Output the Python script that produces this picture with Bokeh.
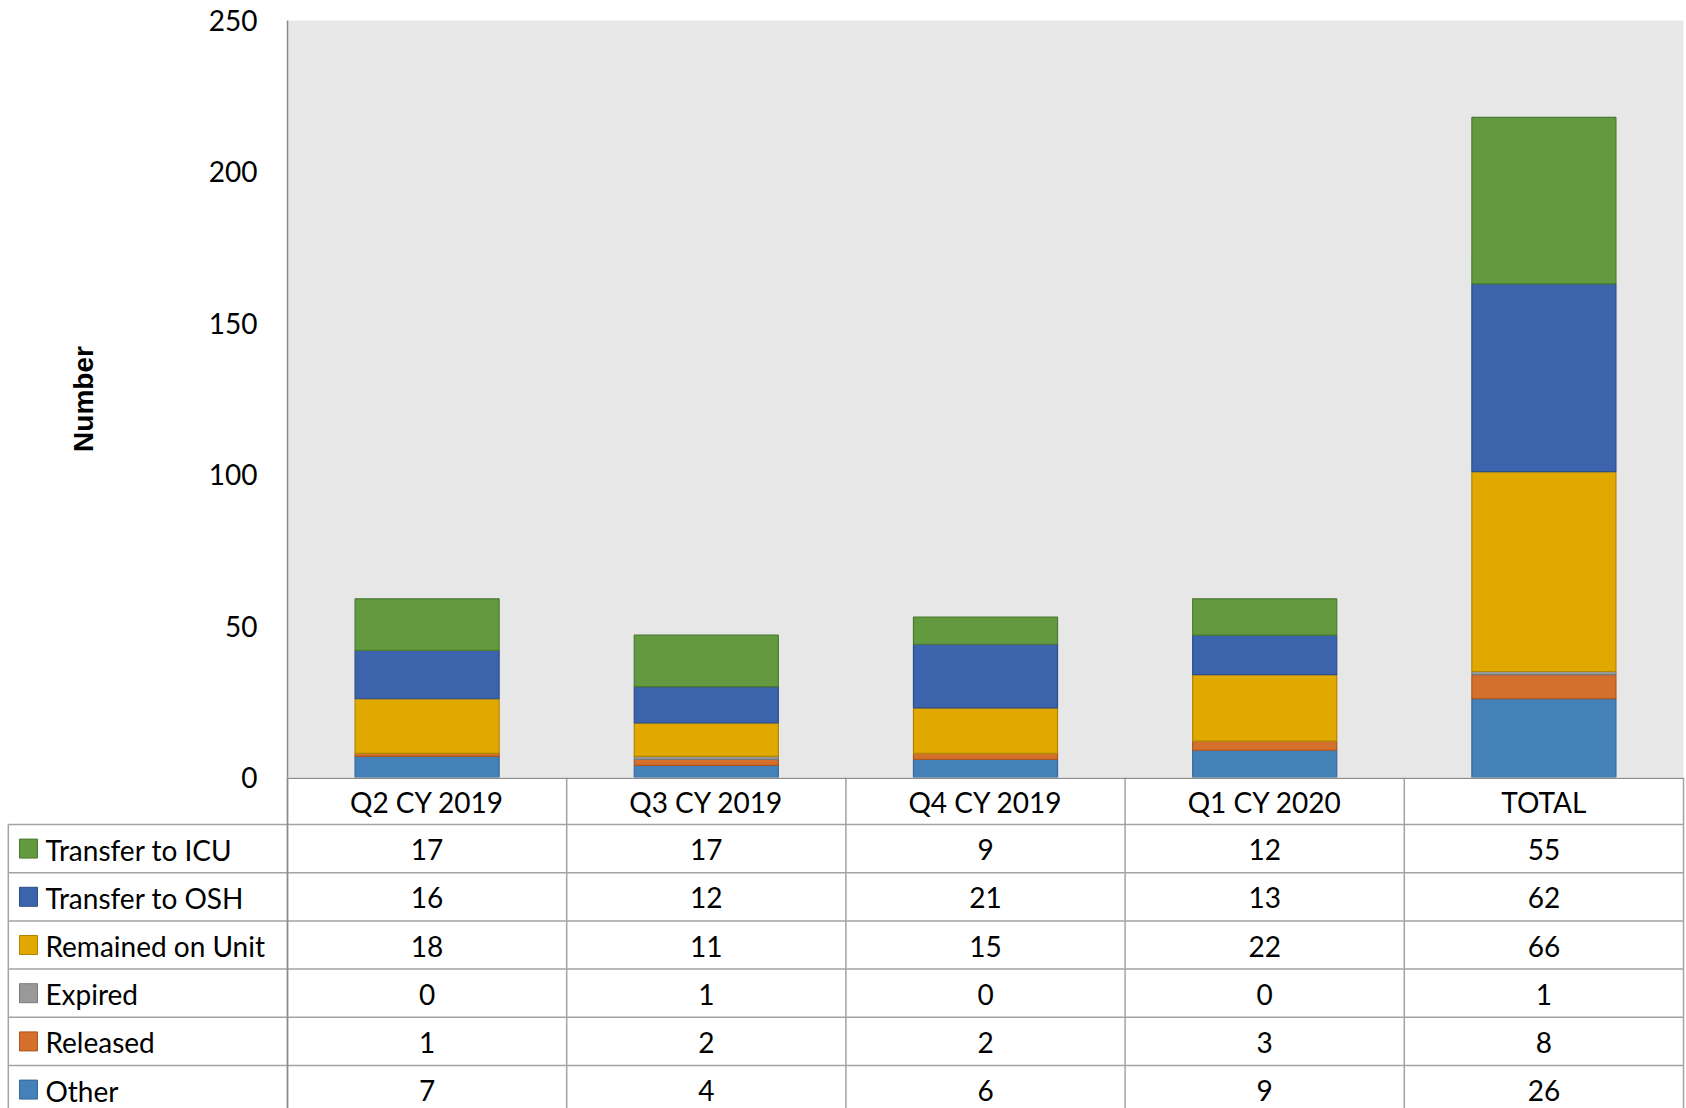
from bokeh.plotting import figure
from bokeh.layouts import column
from bokeh.models import Range1d, FactorRange, FixedTicker, ColumnDataSource
from bokeh.core.properties import value
from bokeh.embed import file_html
from bokeh.resources import INLINE

categories = ["Q2 CY 2019", "Q3 CY 2019", "Q4 CY 2019", "Q1 CY 2020", "TOTAL"]
series_names = ["Other", "Released", "Expired", "Remained on Unit", "Transfer to OSH", "Transfer to ICU"]
other = [7, 4, 6, 9, 26]
released = [1, 2, 2, 3, 8]
expired = [0, 1, 0, 0, 1]
remained = [18, 11, 15, 22, 66]
transfer_osh = [16, 12, 21, 13, 62]
transfer_icu = [17, 17, 9, 12, 55]
y_ticks = [0, 50, 100, 150, 200, 250]

fills = ["#4381B8", "#D46F2C", "#999999", "#E1A900", "#3C64AC", "#639A3F"]
lines = ["#35689A", "#A9561F", "#7A7A7A", "#B08500", "#2D4D88", "#4B7A2F"]

FONT = "Lato"
W = 1686
LEFT = 287
RIGHT_PAD = 3
UNIT = (W - LEFT - RIGHT_PAD) / 5.0
OVER = 24  # overlap between chart and table figures

data = {"cat": categories, "Other": other, "Released": released, "Expired": expired,
        "Remained on Unit": remained, "Transfer to OSH": transfer_osh, "Transfer to ICU": transfer_icu}
src = ColumnDataSource(data)

p = figure(width=W, height=777 + OVER, x_range=FactorRange(*categories, range_padding=0),
           y_range=Range1d(0, 250), output_backend="svg", toolbar_location=None,
           min_border_left=LEFT, min_border_right=RIGHT_PAD, min_border_top=20, min_border_bottom=OVER)
p.frame_align = False
p.background_fill_color = "#E7E7E7"
p.border_fill_color = "white"
p.outline_line_color = None
p.xgrid.visible = False
p.ygrid.visible = False
p.xaxis.visible = False

p.vbar_stack(series_names, x="cat", width=0.516, source=src,
             fill_color=fills, line_color=lines, line_width=1.2)

ya = p.yaxis[0]
ya.ticker = FixedTicker(ticks=y_ticks)
ya.major_tick_line_color = None
ya.minor_tick_line_color = None
ya.axis_line_color = "#8C8C8C"
ya.axis_line_width = 1.5
ya.major_label_text_font = FONT
ya.major_label_text_font_size = "28px"
ya.major_label_text_color = "black"
ya.major_label_standoff = 24
ya.axis_label = "Number"
ya.axis_label_text_font = "Liberation Sans"
ya.axis_label_text_font_style = "bold"
ya.axis_label_text_font_size = "28px"
ya.axis_label_text_color = "black"
ya.axis_label_standoff = 107

# ---- data table ----
TH = 1108 - 777
HEADER_H = 47
ROW_H = 48.2
x0 = -LEFT / UNIT
t = figure(width=W, height=TH, x_range=Range1d(x0, x0 + W / UNIT), y_range=Range1d(TH, 0),
           output_backend="svg", toolbar_location=None,
           min_border_left=0, min_border_right=0, min_border_top=0, min_border_bottom=0)
t.frame_align = False
t.margin = (-OVER, 0, 0, 0)
t.axis.visible = False
t.grid.visible = False
t.outline_line_color = None
t.background_fill_color = None
t.border_fill_color = None

GRID = "#A3A3A3"
nrows = len(series_names)
row_tops = [HEADER_H + k * ROW_H for k in range(nrows + 1)]
t.segment(x0=[-1] * len(row_tops), y0=row_tops, x1=[5] * len(row_tops), y1=row_tops,
          line_color=GRID, line_width=1.5)
xs = list(range(0, 6))
t.segment(x0=xs, y0=[0] * len(xs), x1=xs, y1=[TH] * len(xs), line_color=GRID, line_width=1.5)
t.segment(x0=[0], y0=[0], x1=[0], y1=[TH], line_color="#8C8C8C", line_width=1.5)
t.segment(x0=[-1], y0=[HEADER_H], x1=[-1], y1=[TH], line_color=GRID, line_width=1.5)
t.segment(x0=[0], y0=[0.75], x1=[5], y1=[0.75], line_color="#8C8C8C", line_width=1.5)

t.text(x=[i + 0.5 for i in range(len(categories))], y=[HEADER_H / 2 + 1] * len(categories),
       text=categories, text_align="center", text_baseline="middle",
       text_font=value(FONT), text_font_size="28px", text_color="black")

order = list(reversed(range(nrows)))
series_vals = [other, released, expired, remained, transfer_osh, transfer_icu]
for r, si in enumerate(order):
    yc = HEADER_H + r * ROW_H + ROW_H / 2 + 1
    t.text(x=[i + 0.5 for i in range(len(categories))], y=[yc] * len(categories),
           text=[str(v) for v in series_vals[si]], text_align="center", text_baseline="middle",
           text_font=value(FONT), text_font_size="28px", text_color="black")
    t.rect(x=[-1 + 0.0723], y=[yc - 1], width=0.0645, height=19,
           height_units="screen", fill_color=fills[si], line_color=lines[si], line_width=1)
    t.text(x=[-1 + 0.133], y=[yc], text=[series_names[si]], text_align="left",
           text_baseline="middle", text_font=value(FONT), text_font_size="28px", text_color="black")

layout = column(p, t, spacing=0)
open("out.html", "w").write(file_html(layout, INLINE))
